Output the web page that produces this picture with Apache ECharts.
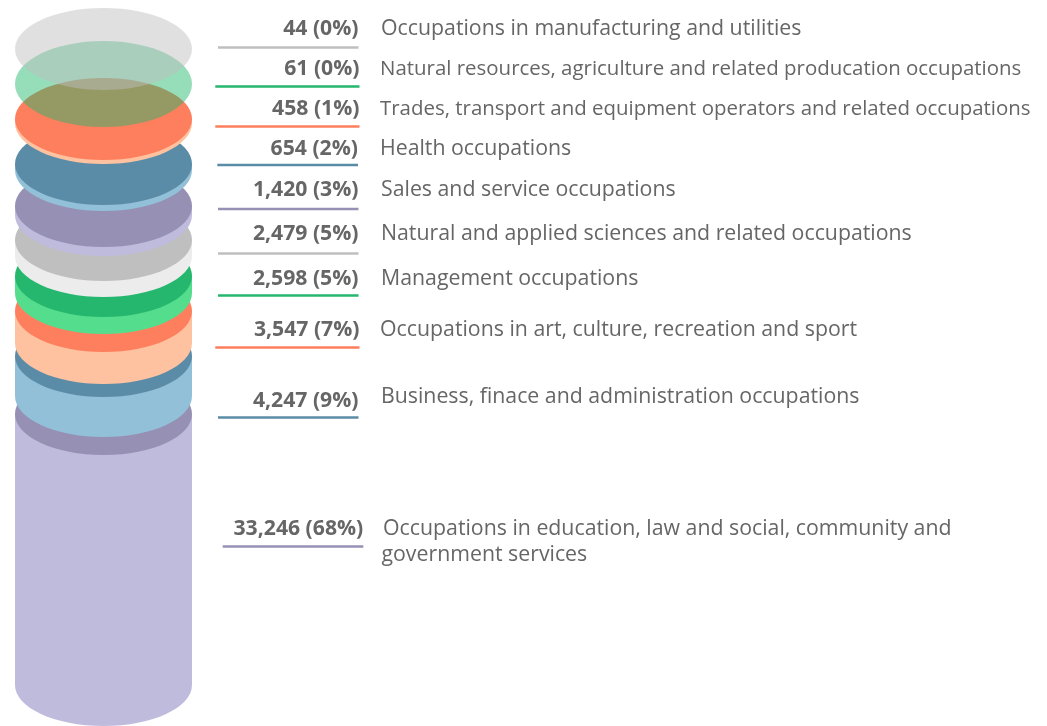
<!DOCTYPE html>
<html>
<head>
<meta charset="utf-8">
<title>Occupations</title>
<script src="https://cdn.jsdelivr.net/npm/echarts@6/dist/echarts.min.js"></script>
<style>
  html, body { margin: 0; padding: 0; background: #fff; }
  #chart { width: 1047px; height: 726px; }
</style>
</head>
<body>
<div id="chart"></div>
<script>
// top to bottom, same order as the labels
const occupations = [
  'Occupations in manufacturing and utilities',
  'Natural resources, agriculture and related producation occupations',
  'Trades, transport and equipment operators and related occupations',
  'Health occupations',
  'Sales and service occupations',
  'Natural and applied sciences and related occupations',
  'Management occupations',
  'Occupations in art, culture, recreation and sport',
  'Business, finace and administration occupations',
  'Occupations in education, law and social, community and',
]
const occupationsLine2 = ['', '', '', '', '', '', '', '', '', 'government services']
const counts = ['44', '61', '458', '654', '1,420', '2,479', '2,598', '3,547', '4,247', '33,246']
const shares = ['0%', '0%', '1%', '2%', '3%', '5%', '5%', '7%', '9%', '68%']

const bandStart = [636, 599, 562, 515, 470, 429, 392, 342, 289, 0]
const bandEnd = [636, 599, 566, 521, 479, 445, 409, 374, 329, 271]

const capColors = ['#bfbfbf', '#24b76d', '#fe7f5d', '#5b8ca7', '#9590b4', '#bfbfbf', '#24b76d', '#fe7f5d', '#5b8ca7', '#9590b4']
const bodyColors = ['#ececec', '#55dd8e', '#ffc2a0', '#92c0d8', '#bfbbdd', '#ececec', '#55dd8e', '#ffc2a0', '#92c0d8', '#bfbbdd']

const CAP_RADIUS = 41
const GREEN_GHOST_RADIUS = 43
const GHOST_OPACITY = 0.48

// label layout per row: rule left/right, rule y, value y, text x, text y, text size
const rows = [
  { l: 218, r: 358.5, rule: 47.5, y: 29, tx: 381, ty: 29, fs: 21.3 },
  { l: 215.3, r: 359.5, rule: 86.5, y: 69, tx: 380, ty: 69, fs: 20.45 },
  { l: 215.3, r: 359.5, rule: 126.5, y: 109, tx: 380, ty: 109, fs: 20.45 },
  { l: 217.3, r: 358, rule: 165, y: 149, tx: 380, ty: 149, fs: 21.3 },
  { l: 218, r: 358.5, rule: 209, y: 190, tx: 381, ty: 190, fs: 21.3 },
  { l: 218, r: 358.5, rule: 253.5, y: 234, tx: 381, ty: 234, fs: 21.3 },
  { l: 218, r: 358.5, rule: 295.5, y: 279, tx: 381, ty: 279, fs: 21.3 },
  { l: 215.3, r: 359.5, rule: 347.5, y: 330, tx: 380, ty: 330, fs: 21.3 },
  { l: 218, r: 358.5, rule: 417.5, y: 401, tx: 381, ty: 397, fs: 21.3 },
  { l: 222.7, r: 363.3, rule: 546.5, y: 529, tx: 383, ty: 529, fs: 21.3, tx2: 381.5, ty2: 555 }
]

function renderBand(params, api) {
  const i = api.value(0)
  const cx = api.coord([0, 0])[0]
  const rx = api.size([0, 0])[0] / 2
  const ry = api.size([0, i === 1 ? GREEN_GHOST_RADIUS : CAP_RADIUS])[1]
  const yBottom = api.coord([0, bandStart[i]])[1] - ry
  const yTop = api.coord([0, bandEnd[i]])[1] - ry
  const children = []
  if (yBottom > yTop) {
    const bodyStyle = { fill: bodyColors[i] }
    children.push({ type: 'ellipse', shape: { cx, cy: yBottom, rx, ry }, style: bodyStyle })
    children.push({ type: 'rect', shape: { x: cx - rx, y: yTop, width: rx * 2, height: yBottom - yTop }, style: bodyStyle })
  }
  children.push({
    type: 'ellipse',
    shape: { cx, cy: yTop, rx, ry },
    style: { fill: capColors[i], opacity: i < 2 ? GHOST_OPACITY : 1 }
  })
  return { type: 'group', children }
}

function labelGraphics() {
  const out = []
  const textItem = (text, x, y, fs) => ({
    type: 'text', silent: true, x, y,
    style: {
      text, fill: '#666666', font: fs + 'px "Open Sans"',
      textAlign: 'left', textVerticalAlign: 'middle'
    }
  })
  rows.forEach((row, i) => {
    out.push({
      type: 'line', silent: true,
      shape: { x1: row.l, y1: row.rule, x2: row.r, y2: row.rule },
      style: { stroke: capColors[i], lineWidth: 2.5 }
    })
    out.push({
      type: 'text', silent: true, x: row.r, y: row.y,
      style: {
        text: counts[i] + ' (' + shares[i] + ')',
        fill: '#666666', font: 'bold 21.2px "Open Sans"',
        textAlign: 'right', textVerticalAlign: 'middle'
      }
    })
    out.push(textItem(occupations[i], row.tx, row.ty, row.fs))
    if (occupationsLine2[i]) out.push(textItem(occupationsLine2[i], row.tx2, row.ty2, row.fs))
  })
  return out
}

const chart = echarts.init(document.getElementById('chart'), null, { renderer: 'canvas' })
chart.setOption({
  animation: false,
  grid: { left: 15, top: 0, width: 177, bottom: 0 },
  xAxis: { type: 'category', data: ['Occupations'], show: false },
  yAxis: { type: 'value', min: 0, max: 726, show: false },
  series: [{
    type: 'custom',
    coordinateSystem: 'cartesian2d',
    renderItem: renderBand,
    clip: false,
    silent: true,
    encode: { x: 1, y: 2 },
    // painted from the bottom of the stack upward
    data: occupations.map((_, i) => [i, 0, bandEnd[i]]).reverse()
  }],
  graphic: labelGraphics()
})
</script>
</body>
</html>
